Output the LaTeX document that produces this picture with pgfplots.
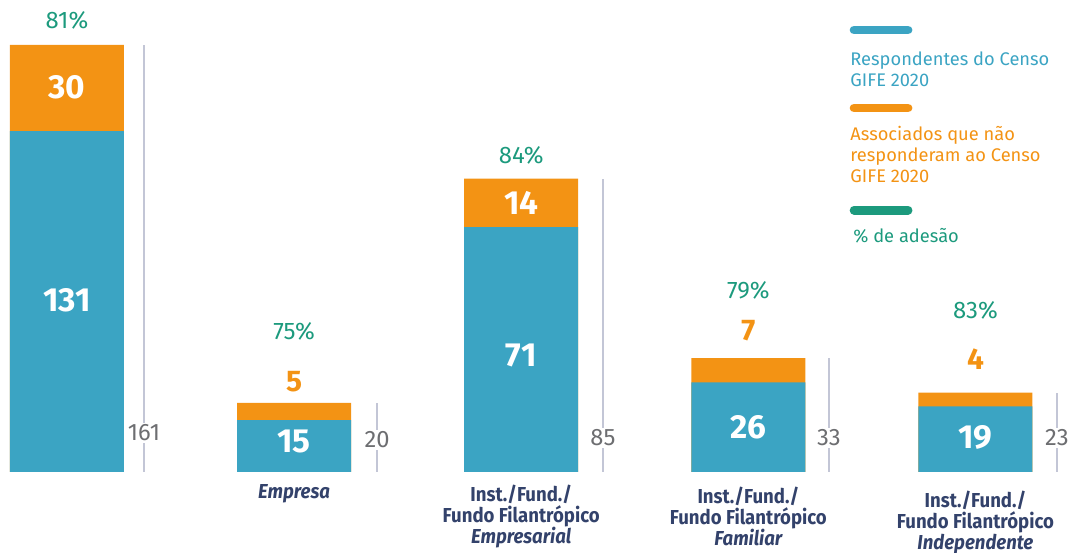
\documentclass[border=0pt]{standalone}
\usepackage{pgfplots}
\pgfplotsset{compat=1.18}
\usepackage{fontspec}
\setmainfont{Fira Sans}
\newfontfamily\catfont[FakeStretch=0.92]{Fira Sans}
\definecolor{cblue}{HTML}{3BA4C3}
\definecolor{corange}{HTML}{F39314}
\definecolor{cgreen}{HTML}{1C9A7D}
\definecolor{cgrid}{HTML}{C3C6D6}
\definecolor{cgrey}{HTML}{6D6E71}
\definecolor{cnavy}{HTML}{33426B}

\begin{document}
\begin{tikzpicture}
\begin{axis}[
    name=ax,
    scale only axis,
    width=21.38cm, height=11.04cm,
    xmin=-0.295, xmax=4.412,
    ymin=-23.19, ymax=136.8,
    hide axis,
    clip=false,
    ybar, bar width=2.28cm, bar shift=0pt,
]
    % totals (first bar is drawn shortened in the original: 161)
    \addplot[fill=corange, draw=none] coordinates {
        (0,123.8) (1,20) (2,85) (3,33) (4,23)};
    % respondents
    \addplot[fill=cblue, draw=none] coordinates {
        (0,98.8) (1,15) (2,71) (3,26) (4,19)};
    % thin total markers
    \addplot[ycomb, no marks, cgrid, line width=1.1pt] coordinates {
        (0.339,123.8) (1.365,20) (2.360,85) (3.355,33) (4.359,23)};

    % totals
    \tikzset{tot/.style={fill=white, inner sep=1pt, text=cgrey, font=\fontsize{13.5}{13.5}\selectfont}}
    \node[tot] at (axis cs:0.339,11.3) {161};
    \node[tot] at (axis cs:1.365,9.3) {20};
    \node[tot] at (axis cs:2.360,9.9) {85};
    \node[tot] at (axis cs:3.355,9.9) {33};
    \node[tot] at (axis cs:4.359,9.9) {23};

    % percentages
    \tikzset{pct/.style={inner sep=0pt, text=cgreen, font=\fontsize{13.6}{13.6}\selectfont}}
    \node[pct] at (axis cs:0,131) {81\%};
    \node[pct] at (axis cs:1,40.9) {75\%};
    \node[pct] at (axis cs:2,91.9) {84\%};
    \node[pct] at (axis cs:3,52.5) {79\%};
    \node[pct] at (axis cs:4,46.7) {83\%};

    % values inside bars
    \tikzset{val/.style={inner sep=0pt, text=white, font=\bfseries\fontsize{19}{19}\selectfont}}
    \node[val] at (axis cs:0,111.6) {30};
    \node[val] at (axis cs:0,49.9) {131};
    \node[val] at (axis cs:1,8.7) {15};
    \node[val] at (axis cs:2,78.0) {14};
    \node[val] at (axis cs:2,33.9) {71};
    \node[val] at (axis cs:3,13.0) {26};
    \node[val] at (axis cs:4,9.9) {19};
    % orange values above small bars
    \tikzset{oval/.style={inner sep=0pt, text=corange, font=\bfseries\fontsize{17}{17}\selectfont}}
    \node[oval] at (axis cs:1,26.1) {5};
    \node[oval] at (axis cs:3,40.9) {7};
    \node[oval] at (axis cs:4,32.8) {4};

    % categories
    \tikzset{cat/.style={inner sep=0pt, align=center, text=cnavy, font=\catfont\bfseries\fontsize{11.5}{11.9}\selectfont}}
    \node[cat] at (axis cs:1,-6.4) {\itshape Empresa};
    \node[cat] at (axis cs:2,-12.8) {Inst./Fund./\\Fundo Filantrópico\\\itshape Empresarial};
    \node[cat] at (axis cs:3,-12.8) {Inst./Fund./\\Fundo Filantrópico\\\itshape Familiar};
    \node[cat] at (axis cs:4,-14.6) {Inst./Fund./\\Fundo Filantrópico\\\itshape Independente};

    % legend
    \draw[cblue, line width=5.1pt, line cap=round] (axis cs:3.466,128.1) -- (axis cs:3.703,128.1);
    \draw[corange, line width=5.1pt, line cap=round] (axis cs:3.466,105.5) -- (axis cs:3.703,105.5);
    \draw[cgreen, line width=5.1pt, line cap=round] (axis cs:3.466,75.9) -- (axis cs:3.703,75.9);
    \tikzset{leg/.style={inner sep=0pt, anchor=north west, align=left, font=\fontsize{10.4}{11.9}\selectfont}}
    \node[leg, text=cblue] at (axis cs:3.448,122.0) {Respondentes do Censo\\GIFE 2020};
    \node[leg, text=corange] at (axis cs:3.448,100.3) {Associados que não\\responderam ao Censo\\GIFE 2020};
    \node[leg, text=cgreen] at (axis cs:3.461,70.7) {\% de adesão};
\end{axis}
\pgfresetboundingbox
\path (ax.south west) rectangle (ax.north east);
\end{tikzpicture}
\end{document}
